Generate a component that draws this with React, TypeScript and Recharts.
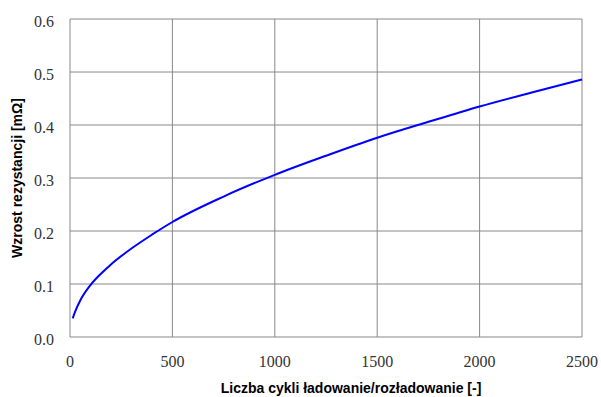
import React from 'react';
import { LineChart, Line, XAxis, YAxis, CartesianGrid, Label } from 'recharts';

const cycles = [13, 25, 50, 100, 150, 200, 300, 400, 500, 750, 1000, 1250, 1500, 1750, 2000, 2250, 2500];
const resistance = [0.035, 0.048, 0.069, 0.098, 0.119, 0.137, 0.167, 0.193, 0.217, 0.265, 0.306, 0.342, 0.376, 0.406, 0.435, 0.461, 0.486];
const xTicks = [0, 500, 1000, 1500, 2000, 2500];
const yTicks = [0, 0.1, 0.2, 0.3, 0.4, 0.5, 0.6];

const data = cycles.map((c, i) => ({ c, r: resistance[i] }));

const tickStyle = { fontFamily: '"Liberation Serif", serif', fontSize: 16, fill: '#333' };
const labelFont = { fontFamily: '"Liberation Sans", Arial, sans-serif', fontSize: 14, fontWeight: 'bold', fill: '#000' };

const renderXTick = (props: any) => {
  const { x, y, payload } = props;
  return (
    <text key={`x-${payload.value}`} x={x} y={y} dy="0.71em" textAnchor="middle" style={tickStyle}>
      {payload.value}
    </text>
  );
};

const renderYTick = (props: any) => {
  const { x, y, payload } = props;
  return (
    <text key={`y-${payload.value}`} x={x} y={y} dy="0.5em" textAnchor="end" style={tickStyle}>
      {Number(payload.value).toFixed(1)}
    </text>
  );
};

export default function App() {
  return (
    <div style={{ position: 'absolute', left: 0, top: 0, background: '#fff' }}>
      <LineChart width={601} height={397} data={data} margin={{ top: 19, right: 19, left: 0, bottom: 0 }}>
        <CartesianGrid stroke="#888" strokeWidth={1} horizontal vertical />
        <XAxis
          dataKey="c"
          type="number"
          domain={[0, 2500]}
          ticks={xTicks}
          height={60}
          axisLine={false}
          tickLine={false}
          tickSize={6}
          tickMargin={13}
          tick={renderXTick}
          interval={0}
        >
          <Label value="Liczba cykli ładowanie/rozładowanie [-]" position="center" dx={25} dy={21} style={labelFont} />
        </XAxis>
        <YAxis
          type="number"
          domain={[0, 0.6]}
          ticks={yTicks}
          width={70}
          axisLine={false}
          tickLine={false}
          tickSize={6}
          tickMargin={10}
          tick={renderYTick}
          interval={0}
        >
          <Label value="Wzrost rezystancji [mΩ]" angle={-90} position="center" dx={-18} style={labelFont} />
        </YAxis>
        <Line type="monotone" dataKey="r" stroke="#0000ff" strokeWidth={2} dot={false} isAnimationActive={false} />
      </LineChart>
    </div>
  );
}
